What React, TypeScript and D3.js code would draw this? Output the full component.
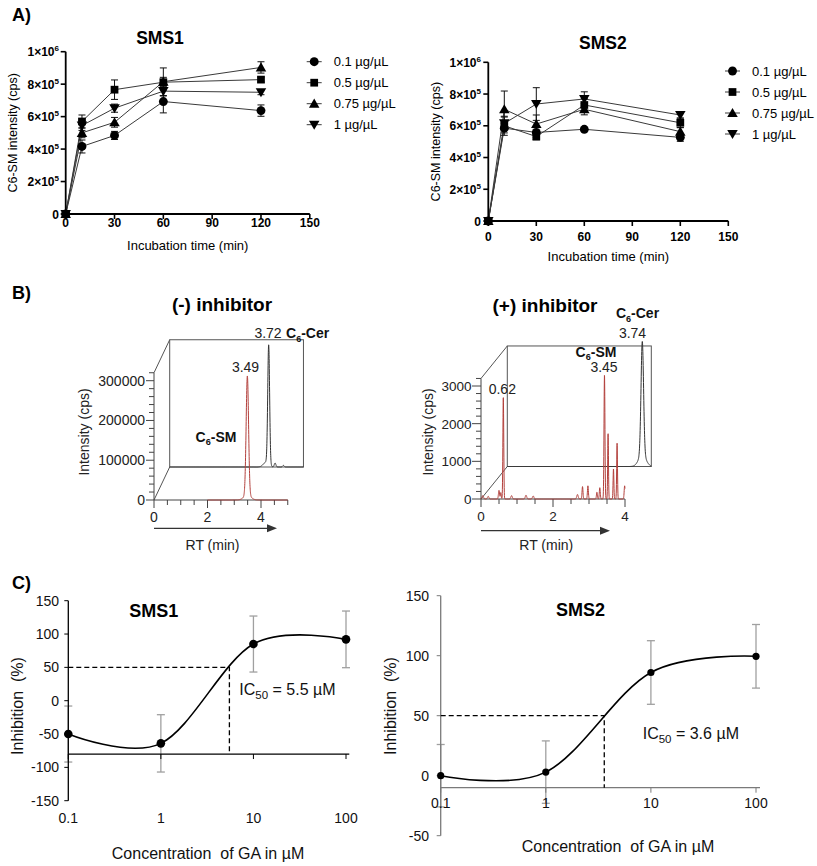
import React from 'react';
import * as d3 from 'd3';

const FONT = '"Liberation Sans", Arial, Helvetica, sans-serif';

// ---------- Panel A data ----------
const times = [0, 10, 30, 60, 120];
const legendLabels = ['0.1 µg/µL', '0.5 µg/µL', '0.75 µg/µL', '1 µg/µL'];
const aXTicks = [0, 30, 60, 90, 120, 150];
const aYTicks = [0, 200000, 400000, 600000, 800000, 1000000];

const sms1_c01 = [0, 416000, 484000, 693000, 637000];
const sms1_c05 = [0, 570000, 766000, 812000, 828000];
const sms1_c075 = [0, 500000, 565000, 815000, 903000];
const sms1_c1 = [0, 545000, 652000, 757000, 750000];
const sms1_e01 = [0, 40000, 25000, 70000, 35000];
const sms1_e05 = [0, 40000, 60000, 30000, 15000];
const sms1_e075 = [0, 30000, 30000, 85000, 35000];
const sms1_e1 = [0, 30000, 25000, 30000, 15000];

const sms2_c01 = [0, 585000, 558000, 578000, 527000];
const sms2_c05 = [0, 600000, 532000, 731000, 619000];
const sms2_c075 = [0, 704000, 611000, 704000, 563000];
const sms2_c1 = [0, 615000, 737000, 769000, 668000];
const sms2_e01 = [0, 30000, 30000, 10000, 25000];
const sms2_e05 = [0, 60000, 20000, 40000, 30000];
const sms2_e075 = [0, 115000, 57000, 35000, 25000];
const sms2_e1 = [0, 40000, 103000, 45000, 20000];

// ---------- Panel B data (peaks: retention time, height, width) ----------
const bLeftFrontPeaks = [
  [3.49, 300000, 0.045],
  [3.49, 12000, 0.13],
];
const bLeftBackPeaks = [
  [3.7, 300000, 0.035],
  [3.6, 12000, 0.1],
  [3.94, 10000, 0.03],
  [4.25, 4000, 0.03],
];
const bRightFrontPeaks = [
  [0.05, 90, 0.02], [0.2, 70, 0.02], [0.5, 230, 0.015], [0.55, 170, 0.012],
  [0.62, 2700, 0.012], [0.85, 90, 0.02], [1.25, 100, 0.02], [1.45, 80, 0.02],
  [2.68, 120, 0.02], [2.82, 330, 0.013], [2.97, 350, 0.013], [3.22, 180, 0.013],
  [3.3, 300, 0.013], [3.43, 3290, 0.013], [3.53, 1740, 0.011], [3.68, 800, 0.011],
  [3.78, 1480, 0.011], [3.99, 350, 0.013],
];
const bRightBackPeaks = [
  [3.75, 3000, 0.035],
  [3.75, 320, 0.1],
];

// ---------- Panel C data ----------
const gaConc = [0.1, 1, 10, 100];
const cXTicks = [0.1, 1, 10, 100];
const cYTicksLeft = [-150, -100, -50, 0, 50, 100, 150];
const cYTicksRight = [-50, 0, 50, 100, 150];
const sms1Inhib = [-50, -64, 85, 92];
const sms1InhibErr = [42, 43, 42, 42.5];
const sms2Inhib = [0, 3, 86, 99.5];
const sms2InhibErr = [26, 26, 26.5, 26.5];
const ic50Sms1 = 5.5;
const ic50Sms2 = 3.6;

const markerPaths = [
  d3.symbol().type(d3.symbolCircle).size(62)(),
  d3.symbol().type(d3.symbolSquare).size(60)(),
  d3.symbol().type(d3.symbolTriangle).size(48)(),
  d3.symbol().type(d3.symbolTriangle).size(48)(),
];

function supLabel(v: number) {
  if (v === 0) return <tspan>0</tspan>;
  const exp = Math.floor(Math.log10(v) + 1e-9);
  const m = Math.round(v / Math.pow(10, exp));
  return (
    <>
      <tspan>{`${m}×10`}</tspan>
      <tspan dy={-5} fontSize={8}>{exp}</tspan>
    </>
  );
}

function PanelA(props: any) {
  const { xr, yr, series, errs, title, titleX, titleY, tickBase, xlabY, ylabX, legX, legY, labelEnd } = props;
  const x = d3.scaleLinear().domain([0, 150]).range(xr);
  const y = d3.scaleLinear().domain([0, 1000000]).range(yr);
  const line = d3.line<number>().x((_, i) => x(times[i])).y((d) => y(d));
  return (
    <g>
      <text x={titleX} y={titleY} fontSize={17.5} fontWeight="bold" textAnchor="middle">{title}</text>
      {series.map((s: number[], k: number) => (
        <path key={'l' + k} d={line(s) || ''} fill="none" stroke="#3a3a3a" strokeWidth={1} />
      ))}
      {series.map((s: number[], k: number) =>
        s.map((v, i) =>
          errs[k][i] > 0 ? (
            <g key={`e${k}-${i}`} stroke="#111" strokeWidth={1}>
              <line x1={x(times[i])} x2={x(times[i])} y1={y(v - errs[k][i])} y2={y(v + errs[k][i])} />
              <line x1={x(times[i]) - 3.5} x2={x(times[i]) + 3.5} y1={y(v - errs[k][i])} y2={y(v - errs[k][i])} />
              <line x1={x(times[i]) - 3.5} x2={x(times[i]) + 3.5} y1={y(v + errs[k][i])} y2={y(v + errs[k][i])} />
            </g>
          ) : null
        )
      )}
      {series.map((s: number[], k: number) =>
        s.map((v, i) => (
          <path
            key={`m${k}-${i}`}
            d={markerPaths[k] || ''}
            transform={`translate(${x(times[i])},${y(v) + (k === 2 ? 1 : k === 3 ? -1 : 0)})${k === 3 ? ' rotate(180)' : ''}`}
            fill="#000"
          />
        ))
      )}
      {/* axes */}
      <line x1={xr[0]} x2={x(150)} y1={y(0)} y2={y(0)} stroke="#000" strokeWidth={1.8} />
      <line x1={xr[0]} x2={xr[0]} y1={y(0) + 0.9} y2={y(1000000)} stroke="#000" strokeWidth={1.8} />
      {aXTicks.map((t) => (
        <g key={'xt' + t}>
          <line x1={x(t)} x2={x(t)} y1={y(0)} y2={y(0) + 5} stroke="#000" strokeWidth={1.6} />
          <text x={x(t)} y={tickBase} fontSize={12} fontWeight="bold" textAnchor="middle">{t}</text>
        </g>
      ))}
      {aYTicks.map((t) => (
        <g key={'yt' + t}>
          <line x1={xr[0] - 5} x2={xr[0]} y1={y(t)} y2={y(t)} stroke="#000" strokeWidth={1.6} />
          <text x={labelEnd} y={y(t) + 4.5} fontSize={12} fontWeight="bold" textAnchor="end">{supLabel(t)}</text>
        </g>
      ))}
      <text x={(xr[0] + x(150)) / 2} y={xlabY} fontSize={13} textAnchor="middle">Incubation time (min)</text>
      <text transform={`translate(${ylabX},${(y(0) + y(1000000)) / 2}) rotate(-90)`} fontSize={12.5} textAnchor="middle">
        C6-SM intensity (cps)
      </text>
      {/* legend */}
      {legendLabels.map((lab, k) => {
        const ly = legY + k * 21;
        return (
          <g key={'lg' + k}>
            <line x1={legX} x2={legX + 15} y1={ly} y2={ly} stroke="#3a3a3a" strokeWidth={1} />
            <path d={markerPaths[k] || ''} transform={`translate(${legX + 7.5},${ly + (k === 2 ? 1 : k === 3 ? -1 : 0)})${k === 3 ? ' rotate(180)' : ''}`} fill="#000" />
            <text x={legX + 27} y={ly + 4.5} fontSize={13}>{lab}</text>
          </g>
        );
      })}
    </g>
  );
}

function peakSum(peaks: number[][], rt: number) {
  let s = 0;
  for (const [c, h, w] of peaks) s += h * Math.exp(-0.5 * ((rt - c) / w) ** 2);
  return s;
}

function Chromatogram(props: any) {
  const {
    ox, oy, xMax, xk, yMaxVal, yTopVal, yMajor, yMinor, dx, dy,
    frontPeaks, frontStart, backPeaks, labelEnd, tickFont, majorLen, ylabX, arrowY, arrowEnd, rtLabelX,
  } = props;
  const x = d3.scaleLinear().domain([0, xMax]).range([ox, ox + xMax * xk]);
  const y = d3.scaleLinear().domain([0, yMaxVal]).range([oy, props.yMaxPx]);
  const yTopPx = y(yTopVal);
  const step = 0.003;
  const frontPts = d3.range(frontStart, xMax + 1e-9, step);
  const backPts = d3.range(0, xMax + 1e-9, step);
  const frontLine = d3.line<number>().x((t) => x(t)).y((t) => y(peakSum(frontPeaks, t)));
  const backLine = d3.line<number>().x((t) => x(t) + dx).y((t) => y(peakSum(backPeaks, t)) + dy);
  const xTicks = d3.range(0, xMax + 1e-9, 0.5);
  const yTicks = d3.range(0, yTopVal + 1e-9, yMinor);
  const red = '#b3403c';
  return (
    <g>
      {/* back plane */}
      <rect x={x(0) + dx} y={yTopPx + dy} width={x(xMax) - x(0)} height={y(0) - yTopPx} fill="none" stroke="#555" strokeWidth={1} />
      <line x1={x(0)} y1={yTopPx} x2={x(0) + dx} y2={yTopPx + dy} stroke="#555" strokeWidth={1} />
      <line x1={x(0)} y1={y(0)} x2={x(0) + dx} y2={y(0) + dy} stroke="#555" strokeWidth={1} />
      <path d={backLine(backPts) || ''} fill="none" stroke="#333" strokeWidth={1} />
      {/* front axes */}
      <line x1={x(0)} x2={x(0)} y1={y(0)} y2={yTopPx} stroke="#444" strokeWidth={1} />
      <line x1={x(0)} x2={x(xMax)} y1={y(0)} y2={y(0)} stroke="#444" strokeWidth={1} />
      {yTicks.map((t) => {
        const major = Math.abs(t % yMajor) < 1e-6;
        return (
          <g key={'by' + t}>
            <line x1={x(0) - (major ? majorLen : 5)} x2={x(0)} y1={y(t)} y2={y(t)} stroke="#444" strokeWidth={1} />
            {major ? (
              <text x={labelEnd} y={y(t) + 5} fontSize={tickFont} textAnchor="end" fill="#222">{t}</text>
            ) : null}
          </g>
        );
      })}
      {xTicks.map((t) => {
        const major = Math.abs(t % 2) < 1e-6;
        return (
          <g key={'bx' + t}>
            <line x1={x(t)} x2={x(t)} y1={y(0)} y2={y(0) + (major ? 8 : 5)} stroke="#444" strokeWidth={1} />
            {major ? (
              <text x={x(t)} y={y(0) + 22} fontSize={tickFont} textAnchor="middle" fill="#222">{t}</text>
            ) : null}
          </g>
        );
      })}
      <path d={frontLine(frontPts) || ''} fill="none" stroke={red} strokeWidth={1} />
      {/* RT arrow */}
      <line x1={x(0)} x2={arrowEnd - 8} y1={arrowY} y2={arrowY} stroke="#333" strokeWidth={1.2} />
      <path d={`M${arrowEnd},${arrowY} L${arrowEnd - 10},${arrowY - 4} L${arrowEnd - 10},${arrowY + 4} Z`} fill="#333" />
      <text x={rtLabelX} y={550} fontSize={14} textAnchor="middle" fill="#222">RT (min)</text>
      <text transform={`translate(${ylabX},${432}) rotate(-90)`} fontSize={14} textAnchor="middle" fill="#222">Intensity (cps)</text>
    </g>
  );
}

function PanelC(props: any) {
  const {
    xr, yDomain, yr, xAxisAt, xAxisEnd, vals, errs, ic50, axisColor, yTicks, labelEnd, tickBase,
    title, titleX, titleY, icX, icY, icText, xlabX, xlabY, ylabX, r,
  } = props;
  const x = d3.scaleLog().domain([0.1, 100]).range(xr);
  const y = d3.scaleLinear().domain(yDomain).range(yr);
  const pts = gaConc.map((c, i) => [x(c), y(vals[i])] as [number, number]);
  const curve = d3.line().curve(d3.curveCardinal.tension(0))(pts) || '';
  const xa = y(xAxisAt);
  return (
    <g>
      <text x={titleX} y={titleY} fontSize={18} fontWeight="bold" textAnchor="middle">{title}</text>
      {/* error bars */}
      {gaConc.map((c, i) => (
        <g key={'ce' + i} stroke="#a0a0a0" strokeWidth={1.3}>
          <line x1={x(c)} x2={x(c)} y1={y(vals[i] - errs[i])} y2={y(vals[i] + errs[i])} />
          <line x1={x(c) - 4} x2={x(c) + 4} y1={y(vals[i] - errs[i])} y2={y(vals[i] - errs[i])} />
          <line x1={x(c) - 4} x2={x(c) + 4} y1={y(vals[i] + errs[i])} y2={y(vals[i] + errs[i])} />
        </g>
      ))}
      {/* axes */}
      <line x1={xr[0]} x2={xr[0]} y1={yr[0]} y2={yr[1]} stroke={axisColor} strokeWidth={1.3} />
      <line x1={xr[0]} x2={xAxisEnd} y1={xa} y2={xa} stroke={axisColor} strokeWidth={1.3} />
      {yTicks.map((t: number) => (
        <g key={'cy' + t}>
          <line x1={xr[0] - 4} x2={xr[0]} y1={y(t)} y2={y(t)} stroke={axisColor} strokeWidth={1} />
          <text x={labelEnd} y={y(t) + 5} fontSize={14} textAnchor="end" fill="#111">{t}</text>
        </g>
      ))}
      {cXTicks.map((t) => (
        <g key={'cx' + t}>
          <line x1={x(t)} x2={x(t)} y1={xa} y2={xa + 5} stroke={axisColor} strokeWidth={1} />
          <text x={x(t)} y={tickBase} fontSize={14} textAnchor="middle" fill="#111">{t}</text>
        </g>
      ))}
      {/* dashed IC50 guides */}
      <path d={`M${xr[0]},${y(50)} H${x(ic50)} V${xa}`} fill="none" stroke="#000" strokeWidth={1.3} strokeDasharray="5,3" />
      <path d={curve} fill="none" stroke="#000" strokeWidth={1.6} />
      {pts.map((p, i) => (
        <circle key={'cp' + i} cx={p[0]} cy={p[1]} r={r} fill="#000" />
      ))}
      <text x={icX} y={icY} fontSize={16} fill="#111">
        <tspan>IC</tspan>
        <tspan dy={4} fontSize={11.5}>50</tspan>
        <tspan dy={-4}>{' = ' + icText + ' µM'}</tspan>
      </text>
      <text x={xlabX} y={xlabY} fontSize={16} textAnchor="middle" fill="#111">{'Concentration\u00a0 of GA in µM'}</text>
      <text transform={`translate(${ylabX},706) rotate(-90)`} fontSize={16} textAnchor="middle" fill="#111">
        {'Inhibition\u00a0 (%)'}
      </text>
    </g>
  );
}

function Sub6(props: any) {
  const { x, y, anchor, base, fs } = props;
  return (
    <text x={x} y={y} fontSize={fs} fontWeight="bold" textAnchor={anchor} fill="#111">
      <tspan>C</tspan>
      <tspan dy={3.5} fontSize={fs * 0.65}>6</tspan>
      <tspan dy={-3.5}>{base}</tspan>
    </text>
  );
}

export default function App() {
  return (
    <svg
      width={817}
      height={866}
      style={{ position: 'absolute', left: 0, top: 0, background: '#fff' }}
      fontFamily={FONT}
    >
      <rect width={817} height={866} fill="#fff" />
      {/* ---------------- A ---------------- */}
      <text x={12} y={21} fontSize={18} fontWeight="bold">A)</text>
      <PanelA
        xr={[65.7, 309.8]}
        yr={[214, 51.7]}
        series={[sms1_c01, sms1_c05, sms1_c075, sms1_c1]}
        errs={[sms1_e01, sms1_e05, sms1_e075, sms1_e1]}
        title="SMS1"
        titleX={160}
        titleY={43.5}
        tickBase={226.5}
        xlabY={249.5}
        ylabX={17}
        legX={306.7}
        legY={61.7}
        labelEnd={59}
      />
      <PanelA
        xr={[488.3, 728.3]}
        yr={[221, 62.3]}
        series={[sms2_c01, sms2_c05, sms2_c075, sms2_c1]}
        errs={[sms2_e01, sms2_e05, sms2_e075, sms2_e1]}
        title="SMS2"
        titleX={602.8}
        titleY={49}
        tickBase={241}
        xlabY={261}
        ylabX={439.5}
        legX={725}
        legY={71}
        labelEnd={481}
      />
      {/* ---------------- B ---------------- */}
      <text x={12} y={299} fontSize={18} fontWeight="bold">B)</text>
      <text x={222} y={311} fontSize={19} fontWeight="bold" textAnchor="middle">(-) inhibitor</text>
      <text x={545} y={312} fontSize={19} fontWeight="bold" textAnchor="middle">(+) inhibitor</text>
      <Chromatogram
        ox={154}
        oy={500}
        xMax={5}
        xk={26.75}
        yMaxVal={300000}
        yMaxPx={380.7}
        yTopVal={320000}
        yMajor={100000}
        yMinor={20000}
        dx={15.7}
        dy={-33}
        frontPeaks={bLeftFrontPeaks}
        frontStart={2}
        backPeaks={bLeftBackPeaks}
        labelEnd={145}
        tickFont={14}
        majorLen={8}
        ylabX={89}
        arrowY={528.3}
        arrowEnd={277}
        rtLabelX={212.5}
      />
      <Chromatogram
        ox={481}
        oy={499}
        xMax={4}
        xk={36}
        yMaxVal={3000}
        yMaxPx={386}
        yTopVal={3200}
        yMajor={1000}
        yMinor={200}
        dx={26.3}
        dy={-32.5}
        frontPeaks={bRightFrontPeaks}
        frontStart={0}
        backPeaks={bRightBackPeaks}
        labelEnd={471.5}
        tickFont={13.5}
        majorLen={9}
        ylabX={432.5}
        arrowY={530.7}
        arrowEnd={610}
        rtLabelX={546.3}
      />
      <text x={245.5} y={372} fontSize={14} textAnchor="middle" fill="#222">3.49</text>
      <text x={268} y={338} fontSize={14} textAnchor="middle" fill="#222">3.72</text>
      <Sub6 x={286} y={338} anchor="start" base="-Cer" fs={14} />
      <Sub6 x={216} y={441.5} anchor="middle" base="-SM" fs={14} />
      <text x={502.3} y={394} fontSize={14} textAnchor="middle" fill="#222">0.62</text>
      <text x={604} y={371.5} fontSize={14} textAnchor="middle" fill="#222">3.45</text>
      <Sub6 x={596} y={356.5} anchor="middle" base="-SM" fs={14} />
      <text x={632.5} y={338} fontSize={14} textAnchor="middle" fill="#222">3.74</text>
      <Sub6 x={637.5} y={318} anchor="middle" base="-Cer" fs={14} />
      {/* ---------------- C ---------------- */}
      <text x={12} y={589} fontSize={18} fontWeight="bold">C)</text>
      <PanelC
        xr={[68.3, 346]}
        yDomain={[-150, 150]}
        yr={[800.7, 600.7]}
        xAxisAt={-80}
        xAxisEnd={349.3}
        vals={sms1Inhib}
        errs={sms1InhibErr}
        ic50={ic50Sms1}
        axisColor="#000"
        yTicks={cYTicksLeft}
        labelEnd={59}
        tickBase={823}
        title="SMS1"
        titleX={153.8}
        titleY={616.5}
        icX={239.3}
        icY={695}
        icText="5.5"
        xlabX={208}
        xlabY={859}
        ylabX={23}
        r={4.3}
      />
      <PanelC
        xr={[440.7, 756]}
        yDomain={[-50, 150]}
        yr={[835.7, 595.7]}
        xAxisAt={-10}
        xAxisEnd={760}
        vals={sms2Inhib}
        errs={sms2InhibErr}
        ic50={ic50Sms2}
        axisColor="#7a7a7a"
        yTicks={cYTicksRight}
        labelEnd={429}
        tickBase={808}
        title="SMS2"
        titleX={580.5}
        titleY={616}
        icX={642.7}
        icY={739}
        icText="3.6"
        xlabX={618}
        xlabY={852}
        ylabX={396}
        r={3.6}
      />
    </svg>
  );
}
